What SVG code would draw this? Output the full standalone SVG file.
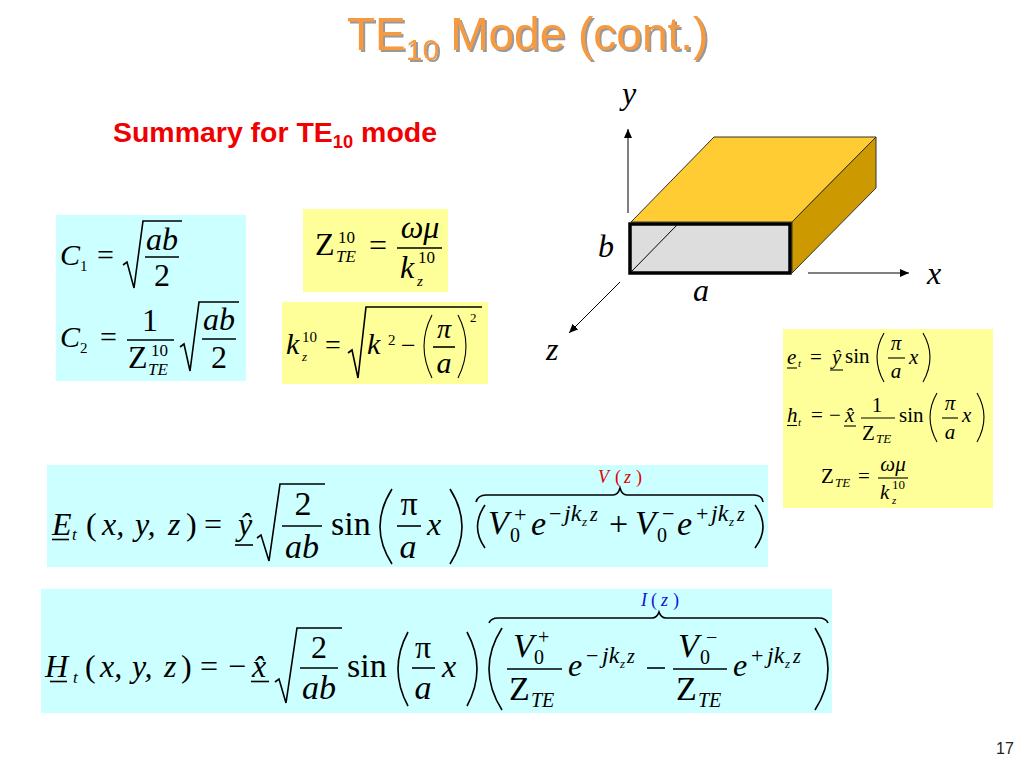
<svg xmlns="http://www.w3.org/2000/svg" width="1024" height="768" viewBox="0 0 1024 768">
<style>
text{font-family:"Liberation Serif","Times New Roman",serif;fill:#000}
.i{font-style:italic}
.a{font-family:"Liberation Sans",Arial,sans-serif}
.m{text-anchor:middle}
.l{fill:none;stroke:#000;stroke-width:1.6}
.t{fill:none;stroke:#000;stroke-width:1.1}
.cy{fill:#CCFFFF}.ye{fill:#FFFF99}
.s13{font-size:13px}.s11{font-size:11px}.s15{font-size:15px}.s17{font-size:17px}.s18{font-size:18px}.s20{font-size:20px}.s21{font-size:21px}.s22{font-size:22px}.s24{font-size:24px}.s26{font-size:26px}.s28{font-size:28px}.s30{font-size:30px}.s32{font-size:32px}.s34{font-size:34px}.s36{font-size:36px}
</style>
<defs>
<filter id="sh" x="-5%" y="-10%" width="110%" height="130%"><feDropShadow dx="2" dy="2" stdDeviation="0.6" flood-color="#999"/></filter>
<marker id="ah" markerWidth="9" markerHeight="9" refX="9" refY="4" orient="auto" markerUnits="userSpaceOnUse"><path d="M0 0L9 4L0 8z" fill="#000"/></marker>
</defs>
<rect width="1024" height="768" fill="#fff"/>

<g id="title" filter="url(#sh)">
<text class="a" x="347" y="50" font-size="46" style="fill:#F79A3C">TE<tspan font-size="30" dy="10">10</tspan><tspan dy="-10" dx="11">Mode (cont.)</tspan></text>
</g>
<text id="summary" class="a" x="113" y="142" font-size="28" font-weight="bold" style="fill:#F00000" textLength="324" lengthAdjust="spacingAndGlyphs">Summary for TE<tspan font-size="18" dy="6">10</tspan><tspan dy="-6"> mode</tspan></text>

<g id="waveguide">
<polygon points="631,222 714,137 876,137 792,222" fill="#FFCC33" stroke="#333" stroke-width="1"/>
<polygon points="792,222 876,137 876,188 792,273" fill="#CC9900" stroke="#333" stroke-width="1"/>
<rect x="630" y="224" width="160" height="49" fill="#DDDDDD" stroke="#000" stroke-width="3.5"/>
<line x1="631" y1="272" x2="677" y2="225" stroke="#000" stroke-width="1"/>
</g>
<g id="axes">
<line x1="628" y1="213" x2="628" y2="129" stroke="#000" stroke-width="1" marker-end="url(#ah)"/>
<line x1="808" y1="273" x2="909" y2="273" stroke="#000" stroke-width="1" marker-end="url(#ah)"/>
<line x1="620" y1="282" x2="569" y2="333" stroke="#000" stroke-width="1" marker-end="url(#ah)"/>
<text class="i s32" x="622" y="104">y</text>
<text class="i s32" x="598" y="257">b</text>
<text class="i s32" x="927" y="284">x</text>
<text class="i s32" x="693" y="301">a</text>
<text class="i s32" x="546" y="360">z</text>
</g>

<g id="c-box">
<rect class="cy" x="56" y="215" width="190" height="166"/>
<text class="i s30" x="60" y="265">C</text><text class="s15" x="80" y="271">1</text>
<text class="s30" x="97" y="265">=</text>
<path class="l" d="M123 265L127 262L134 288L143 221H182"/>
<line class="l" x1="145" y1="257" x2="179" y2="257"/>
<text class="i s32 m" x="162" y="250">ab</text><text class="s32 m" x="162" y="286">2</text>
<text class="i s30" x="60" y="347">C</text><text class="s15" x="80" y="353">2</text>
<text class="s30" x="100" y="347">=</text>
<line class="l" x1="127" y1="340" x2="174" y2="340"/>
<text class="s32 m" x="150" y="331">1</text>
<text class="s32" x="128" y="368">Z</text><text class="s17" x="151" y="356">10</text><text class="i s17" x="148" y="375">TE</text>
<path class="l" d="M180 347L184 344L190 371L199 302H239"/>
<line class="l" x1="202" y1="339" x2="236" y2="339"/>
<text class="i s32 m" x="219" y="330">ab</text><text class="s32 m" x="219" y="368">2</text>
</g>

<g id="z-box">
<rect class="ye" x="303" y="209" width="145" height="83"/>
<text class="s32" x="315" y="255">Z</text><text class="s17" x="338" y="243">10</text><text class="i s17" x="336" y="262">TE</text>
<text class="s32" x="369" y="256">=</text>
<line class="l" x1="397" y1="248" x2="442" y2="248"/>
<text class="i s32 m" x="420" y="238">ωμ</text>
<text class="i s32" x="400" y="278">k</text><text class="s17" x="418" y="263">10</text><text class="i s15" x="417" y="286">z</text>
</g>

<g id="k-box">
<rect class="ye" x="282" y="302" width="206" height="82"/>
<text class="i s30" x="286" y="354">k</text><text class="s15" x="302" y="342">10</text><text class="i s13" x="302" y="361">z</text>
<text class="s28" x="325" y="354">=</text>
<path class="l" d="M348 353L352 350L358 378L366 307H482"/>
<text class="i s30" x="367" y="354">k</text><text class="s15" x="388" y="345">2</text>
<text class="s26" x="401" y="354">−</text>
<path class="t" d="M432 315Q416 346 432 378"/><path class="t" d="M458 315Q474 346 458 378"/>
<text class="i s28 m" x="444" y="338">π</text>
<line class="l" x1="433" y1="347" x2="455" y2="347"/>
<text class="i s30 m" x="444" y="373">a</text>
<text class="s13" x="470" y="322">2</text>
</g>

<g id="field-box">
<rect class="ye" x="783" y="329" width="210" height="179"/>
<text class="i s21" x="787" y="364">e</text><text class="i s11" x="798" y="367">t</text>
<line class="t" x1="787" y1="368" x2="797" y2="368"/>
<text class="s21" x="810" y="364">=</text>
<text class="i s21" x="832" y="364">ŷ</text><line class="t" x1="830" y1="370" x2="843" y2="370"/>
<text class="s21" x="845" y="363">sin</text>
<path class="t" d="M884 333Q870 357 884 382"/><path class="t" d="M923 333Q937 357 923 382"/>
<text class="i s21 m" x="896" y="350">π</text><line class="t" x1="888" y1="358" x2="905" y2="358"/>
<text class="i s21 m" x="896" y="378">a</text>
<text class="i s21" x="909" y="364">x</text>

<text class="i s21" x="787" y="422">h</text><text class="i s11" x="798" y="426">t</text>
<line class="t" x1="787" y1="425.500" x2="797" y2="425.500"/>
<text class="s21" x="811" y="422">=</text><text class="s21" x="829" y="422">−</text>
<text class="i s21" x="845" y="422">x̂</text><line class="t" x1="844" y1="426" x2="856" y2="426"/>
<line class="t" x1="861" y1="418" x2="895" y2="418"/>
<text class="s21 m" x="877" y="412">1</text>
<text class="s21" x="862" y="440">Z</text><text class="i s13" x="876" y="443">TE</text>
<text class="s21" x="899" y="422">sin</text>
<path class="t" d="M937 393Q923 417 937 442"/><path class="t" d="M977 393Q991 417 977 442"/>
<text class="i s21 m" x="950" y="410">π</text><line class="t" x1="942" y1="418" x2="958" y2="418"/>
<text class="i s21 m" x="950" y="439">a</text>
<text class="i s21" x="962" y="422">x</text>

<text class="s21" x="821" y="483">Z</text><text class="i s13" x="835" y="487">TE</text>
<text class="s21" x="858" y="483">=</text>
<line class="t" x1="878" y1="478" x2="908" y2="478"/>
<text class="i s21 m" x="893" y="471">ωμ</text>
<text class="i s21" x="880" y="499">k</text><text class="s13" x="892" y="489">10</text><text class="i s11" x="892" y="504">z</text>
</g>

<g id="e-eq">
<rect class="cy" x="47" y="465" width="721" height="102"/>
<text class="i s32" x="52" y="535">E</text><line class="l" x1="52" y1="539.500" x2="69" y2="539.500"/>
<text class="i s17" x="72" y="540">t</text>
<text class="s32" x="86" y="535">(</text><text class="i s32" x="102" y="535">x,</text>
<text class="i s32" x="135" y="535">y,</text><text class="i s32" x="168" y="535">z</text>
<text class="s32" x="186" y="535">)</text><text class="s32" x="204" y="535">=</text>
<text class="i s32" x="238" y="535">ŷ</text><line class="l" x1="235" y1="545" x2="253" y2="545"/>
<path class="l" d="M257 538L261 535L269 561L280 484H325"/>
<line class="l" x1="282" y1="526" x2="322" y2="526"/>
<text class="s34 m" x="303" y="515">2</text><text class="i s34 m" x="302" y="558">ab</text>
<text class="s34" x="331" y="535">sin</text>
<path class="l" d="M392 489Q368 527 392 564"/><path class="l" d="M450 489Q474 527 450 564"/>
<text class="s34 m" x="409" y="515">π</text><line class="l" x1="397" y1="526" x2="421" y2="526"/>
<text class="i s34 m" x="408" y="558">a</text><text class="i s32" x="427" y="535">x</text>

<path class="l" d="M476 502Q478 495 486 495H613Q618 495 620 488Q622 495 627 495H754Q762 495 763 502"/>
<text class="i s18" x="598" y="483" style="fill:#E00000">V</text>
<text class="s18" x="615" y="483" style="fill:#E00000">(</text><text class="i s18" x="624" y="483" style="fill:#E00000">z</text><text class="s18" x="636" y="483" style="fill:#E00000">)</text>

<path class="l" d="M485 505Q470 527 485 548"/><path class="l" d="M755 505Q771 527 755 548"/>
<text class="i s34" x="488" y="534">V</text><text class="s22" x="514" y="522">+</text><text class="s20" x="510" y="542">0</text>
<text class="i s34" x="531" y="535">e</text>
<text class="s22" x="549" y="521">−</text><text class="i s24" x="564" y="521">jk</text><text class="i s13" x="582" y="526">z</text><text class="i s20" x="590" y="521">z</text>
<text class="s34" x="609" y="535">+</text>
<text class="i s34" x="635" y="534">V</text><text class="s22" x="662" y="521">−</text><text class="s20" x="657" y="542">0</text>
<text class="i s34" x="677" y="535">e</text>
<text class="s22" x="696" y="521">+</text><text class="i s24" x="711" y="521">jk</text><text class="i s13" x="729" y="526">z</text><text class="i s20" x="737" y="521">z</text>
</g>

<g id="h-eq">
<rect class="cy" x="41" y="589" width="791" height="124"/>
<text class="i s32" x="45" y="677">H</text><line class="l" x1="50" y1="681.500" x2="67" y2="681.500"/>
<text class="i s17" x="73" y="683">t</text>
<text class="s32" x="85" y="677">(</text><text class="i s32" x="100" y="677">x,</text>
<text class="i s32" x="132" y="677">y,</text><text class="i s32" x="164" y="677">z</text>
<text class="s32" x="181" y="677">)</text><text class="s32" x="200" y="677">=</text>
<text class="s32" x="228" y="677">−</text>
<text class="i s32" x="252" y="677">x̂</text><line class="l" x1="251" y1="681.500" x2="269" y2="681.500"/>
<path class="l" d="M275 682L279 679L286 703L297 628H342"/>
<line class="l" x1="300" y1="668" x2="338" y2="668"/>
<text class="s32 m" x="319" y="658">2</text><text class="i s34 m" x="319" y="699">ab</text>
<text class="s34" x="347" y="677">sin</text>
<path class="l" d="M408 632Q388 669 408 706"/><path class="l" d="M467 632Q487 669 467 706"/>
<text class="s32 m" x="423" y="658">π</text><line class="l" x1="412" y1="668" x2="435" y2="668"/>
<text class="i s34 m" x="423" y="699">a</text><text class="i s32" x="442" y="677">x</text>

<path class="l" d="M489 623Q491 618 498 618H652Q657 618 659 612Q661 618 666 618H819Q826 618 828 623"/>
<text class="i s18" x="641" y="606" style="fill:#1010E0">I</text>
<text class="s18" x="651" y="606" style="fill:#1010E0">(</text><text class="i s18" x="661" y="606" style="fill:#1010E0">z</text><text class="s18" x="673" y="606" style="fill:#1010E0">)</text>

<path class="l" d="M502 628Q476 669 502 710"/><path class="l" d="M815 628Q841 669 815 710"/>
<text class="i s34" x="513" y="657">V</text><text class="s20" x="538" y="644">+</text><text class="s20" x="534" y="664">0</text>
<line class="l" x1="507" y1="669" x2="562" y2="669"/>
<text class="s34" x="509" y="700">Z</text><text class="i s20" x="531" y="707">TE</text>
<text class="i s32" x="568" y="676">e</text>
<text class="s22" x="586" y="663">−</text><text class="i s24" x="602" y="663">jk</text><text class="i s13" x="620" y="668">z</text><text class="i s20" x="627" y="663">z</text>
<line class="l" x1="647" y1="668" x2="665" y2="668"/>
<text class="i s34" x="678" y="657">V</text><text class="s20" x="706" y="644">−</text><text class="s20" x="700" y="664">0</text>
<line class="l" x1="673" y1="669" x2="727" y2="669"/>
<text class="s34" x="676" y="700">Z</text><text class="i s20" x="698" y="707">TE</text>
<text class="i s32" x="733" y="676">e</text>
<text class="s22" x="751" y="663">+</text><text class="i s24" x="767" y="663">jk</text><text class="i s13" x="785" y="668">z</text><text class="i s20" x="793" y="663">z</text>
</g>

<text id="page" class="a" x="996" y="754" font-size="16" style="fill:#222">17</text>
</svg>
